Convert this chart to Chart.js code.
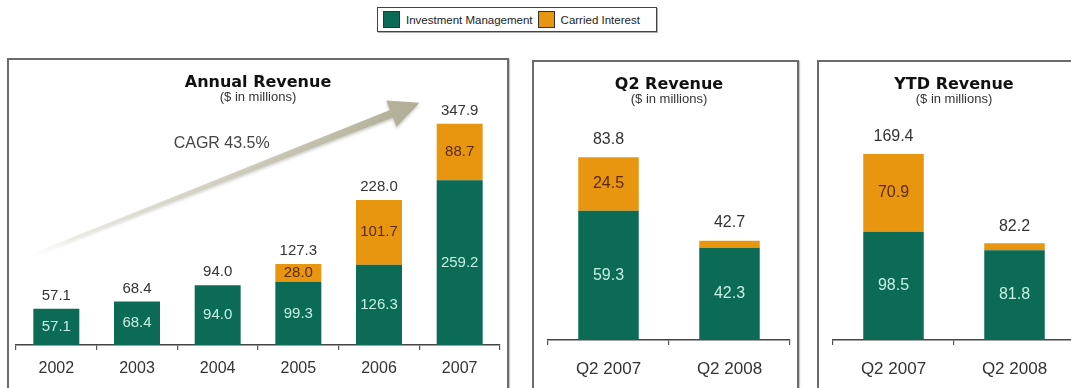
<!DOCTYPE html>
<html>
<head>
<meta charset="utf-8">
<script src="https://cdn.jsdelivr.net/npm/chart.js@4/dist/chart.umd.min.js"></script>
<style>
body{margin:0;width:1071px;height:388px;overflow:hidden;background:#fff;position:relative;font-family:"Liberation Sans",Arial,sans-serif;}
.painel{position:absolute;box-sizing:border-box;border:2px solid #6b6b6b;border-bottom:none;box-shadow:1px 1px 1px #c8c8c8;}
canvas{position:absolute;}
#legenda{position:absolute;left:377px;top:7px;width:280px;height:25px;box-sizing:border-box;border:1px solid #444;box-shadow:1px 1px 0 #aaa;display:flex;align-items:center;font-size:11.5px;color:#222;white-space:nowrap;}
#legenda .cor{display:inline-block;width:15px;height:15px;border:1px solid #333;margin:0 6px 0 5px;}
</style>
</head>
<body>
<div id="legenda"></div>
<div class="painel" style="left:7px;top:58px;width:502px;height:340px"></div>
<div class="painel" style="left:532px;top:60px;width:267px;height:340px"></div>
<div class="painel" style="left:817px;top:60px;width:280px;height:340px"></div>
<canvas id="anual" width="520" height="330" style="left:0;top:58px"></canvas>
<canvas id="q2" width="266" height="328" style="left:532px;top:60px"></canvas>
<canvas id="ytd" width="266" height="328" style="left:817px;top:60px"></canvas>
<script>
// Dados
const series = ['Investment Management', 'Carried Interest'];
const cores = ['#0b6b55', '#e8960f'];
const corTextoBarra = ['#c4efe2', '#5b2a08'];

const anos = ['2002', '2003', '2004', '2005', '2006', '2007'];
const gestaoAnual = [57.1, 68.4, 94.0, 99.3, 126.3, 259.2];
const carriedAnual = [0, 0, 0, 28.0, 101.7, 88.7];

const periodos = ['Q2 2007', 'Q2 2008'];
const gestaoQ2 = [59.3, 42.3];
const carriedQ2 = [24.5, 0.4];
const gestaoYTD = [98.5, 81.8];
const carriedYTD = [70.9, 0.4];

const cagr = 'CAGR 43.5%';
const fonte = '"Liberation Sans", Arial, sans-serif';

// Legenda
const legenda = document.getElementById('legenda');
series.forEach((s,i)=>{
    legenda.innerHTML += `<span class="cor" style="background:${cores[i]}"></span><span>${s}</span>`;
});

// Plugins
const rotulos = {
    id:'rotulos',
    afterDatasetsDraw(chart, args, o){
        const ctx = chart.ctx, ds = chart.data.datasets;
        const m0 = chart.getDatasetMeta(0).data, m1 = chart.getDatasetMeta(1).data;
        ctx.save();
        ctx.textAlign='center'; ctx.textBaseline='middle';
        ctx.font = o.tamanho+'px '+fonte;
        chart.data.labels.forEach((l,i)=>{
            const g = ds[0].data[i], c = ds[1].data[i];
            ctx.fillStyle = corTextoBarra[0];
            ctx.fillText(g.toFixed(1), m0[i].x, (m0[i].y+m0[i].base)/2);
            if(c>=o.minimo){ ctx.fillStyle = corTextoBarra[1]; ctx.fillText(c.toFixed(1), m1[i].x, (m1[i].y+m1[i].base)/2); }
            ctx.fillStyle = '#333';
            ctx.fillText((g+c).toFixed(1), m0[i].x, Math.min(m0[i].y, m1[i].y) - o.acima);
        });
        ctx.restore();
    }
};

// seta de crescimento (só no anual), posicionada pelas escalas
const seta = {
    id:'seta',
    beforeDatasetsDraw(chart, args, o){
        if(!o.de) return;
        const {ctx, scales:{x,y}} = chart;
        const x0 = x.getPixelForValue(o.de[0]), y0 = y.getPixelForValue(o.de[1]);
        const x1 = x.getPixelForValue(o.ate[0]), y1 = y.getPixelForValue(o.ate[1]);
        const dx=x1-x0, dy=y1-y0, L=Math.hypot(dx,dy), ux=dx/L, uy=dy/L, nx=-uy, ny=ux;
        const hb = L-30;
        const pt = (t,w)=>[x0+ux*t+nx*w, y0+uy*t+ny*w];
        const pts = [pt(0,0.5), pt(hb,4), pt(hb,14), pt(L,0), pt(hb,-14), pt(hb,-4), pt(0,-0.5)];
        const grad = ctx.createLinearGradient(x0,y0,x1,y1);
        grad.addColorStop(0,'rgba(255,255,255,0)');
        grad.addColorStop(0.12,'rgba(228,226,214,0.75)');
        grad.addColorStop(1,'#b0ac95');
        ctx.save();
        ctx.shadowColor='rgba(80,80,60,0.3)'; ctx.shadowBlur=3; ctx.shadowOffsetY=2;
        ctx.beginPath();
        pts.forEach((p,i)=> i? ctx.lineTo(p[0],p[1]) : ctx.moveTo(p[0],p[1]));
        ctx.closePath();
        ctx.fillStyle = grad; ctx.fill();
        ctx.restore();
        ctx.save();
        ctx.font = '16px '+fonte; ctx.fillStyle='#444';
        ctx.textAlign='center'; ctx.textBaseline='middle';
        ctx.fillText(o.texto, x.getPixelForValue(o.pos[0]), y.getPixelForValue(o.pos[1]));
        ctx.restore();
    }
};

// Gráficos
function criarGrafico(id, titulo, labels, gestao, carried, c){
    return new Chart(document.getElementById(id), {
        type:'bar',
        data:{ labels, datasets:[
            { label:series[0], data:gestao, backgroundColor:cores[0], barPercentage:c.barra, categoryPercentage:1 },
            { label:series[1], data:carried, backgroundColor:cores[1], barPercentage:c.barra, categoryPercentage:1, minBarLength:c.minBarra }
        ]},
        options:{
            responsive:false, animation:false, events:[], devicePixelRatio:1,
            layout:{ padding:{ left:16, right:c.direita, top:0, bottom:0 } },
            plugins:{
                legend:{display:false}, tooltip:{enabled:false},
                title:{ display:true, text:titulo, color:'#111', font:{family:'"DejaVu Sans"', size:16, weight:'bold', lineHeight:1}, padding:{top:17,bottom:0} },
                subtitle:{ display:true, text:'($ in millions)', color:'#333', font:{family:fonte, size:13, lineHeight:1}, padding:{top:0,bottom:0} },
                rotulos:{ tamanho:c.tamanho, acima:c.acima, minimo:1 },
                seta:c.seta || {}
            },
            scales:{
                x:{ stacked:true,
                    grid:{ offset:true, drawOnChartArea:false, drawTicks:true, tickLength:5, color:'#555', lineWidth:1.2 },
                    border:{ display:true, color:'#444', width:1.5 },
                    ticks:{ color:'#333', font:{family:fonte, size:c.tick}, padding:c.pad, maxRotation:0, autoSkip:false },
                    afterFit(s){ s.height = c.eixo; } },
                y:{ stacked:true, display:false, min:0, max:c.max }
            }
        },
        plugins:[seta, rotulos]
    });
}

criarGrafico('anual', 'Annual Revenue', anos, gestaoAnual, carriedAnual,
    { barra:0.57, direita:20, max:379, tamanho:15, acima:13, tick:16, pad:9, eixo:43, minBarra:0,
      seta:{ de:[-0.38,139], ate:[4.5,381], texto:cagr, pos:[2.05,316] } });
criarGrafico('q2', 'Q2 Revenue', periodos, gestaoQ2, carriedQ2,
    { barra:0.5, direita:8, max:107.3, tamanho:16, acima:18, tick:17, pad:14, eixo:48, minBarra:7 });
criarGrafico('ytd', 'YTD Revenue', periodos, gestaoYTD, carriedYTD,
    { barra:0.5, direita:8, max:213, tamanho:16, acima:17, tick:17, pad:14, eixo:48, minBarra:7 });
</script>
</body>
</html>
